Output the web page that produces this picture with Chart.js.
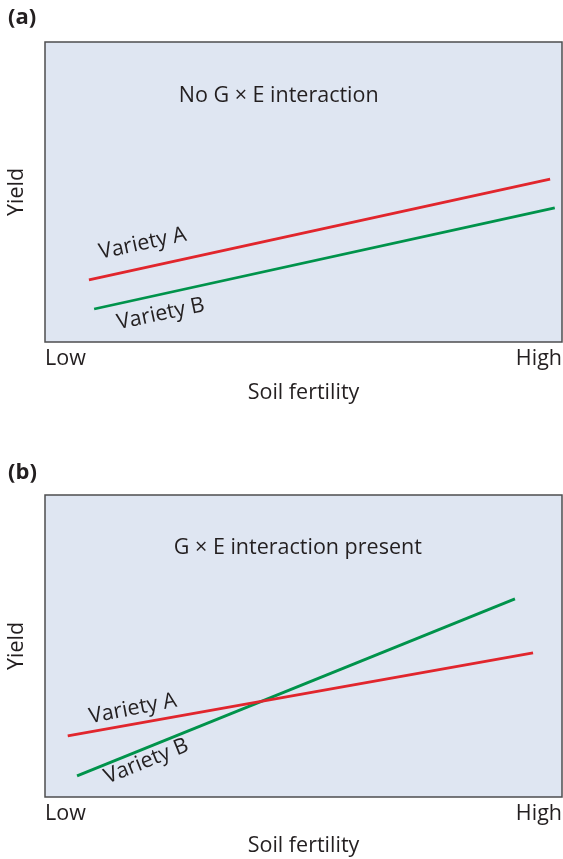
<!DOCTYPE html>
<html>
<head>
<meta charset="utf-8">
<script src="https://cdn.jsdelivr.net/npm/chart.js@4/dist/chart.umd.min.js"></script>
<style>
html, body { margin: 0; padding: 0; background: #fff; }
#wrap { position: relative; width: 563px; height: 859px; }
.box { position: absolute; left: 0; width: 563px; }
</style>
</head>
<body>
<div id="wrap">
	<div class="box" style="top:0;height:430px"><canvas id="chartA"></canvas></div>
	<div class="box" style="top:430px;height:429px"><canvas id="chartB"></canvas></div>
</div>
<script>
// soil fertility on x (0 = Low, 100 = High), yield on y (0..100)
var fertilityTicks = ["Low", "High"];

// panel (a): no G x E interaction
var aVarietyA_x = [8.5, 97.7];
var aVarietyA_y = [20.7, 54.3];
var aVarietyB_x = [9.5, 98.6];
var aVarietyB_y = [11, 44.7];

// panel (b): G x E interaction present
var bVarietyA_x = [4.4, 94.4];
var bVarietyA_y = [20.2, 47.7];
var bVarietyB_x = [6.2, 90.9];
var bVarietyB_y = [7, 65.6];

var RED = "#e1262d", GREEN = "#00934b", INK = "#231f20";
var FONT = "'Open Sans', 'Noto Sans', sans-serif";
var SIZE = 21.5;

function pts(xs, ys) {
	var out = [];
	for (var i = 0; i < xs.length; i++) out.push({x: xs[i], y: ys[i]});
	return out;
}

var frame = {
	id: 'frame',
	beforeDatasetsDraw: function(chart) {
		var a = chart.chartArea, ctx = chart.ctx;
		ctx.save();
		ctx.fillStyle = "#dfe6f2";
		ctx.fillRect(a.left, a.top, a.right - a.left, a.bottom - a.top);
		ctx.restore();
	},
	afterDatasetsDraw: function(chart, args, opts) {
		var a = chart.chartArea, ctx = chart.ctx;
		var xs = chart.scales.x, ys = chart.scales.y;
		ctx.save();
		ctx.strokeStyle = "#4d4d4f";
		ctx.lineWidth = 1.5;
		ctx.strokeRect(a.left, a.top, a.right - a.left, a.bottom - a.top);

		ctx.fillStyle = INK;
		ctx.textAlign = "center";
		ctx.textBaseline = "middle";
		opts.notes.forEach(function(n) {
			ctx.save();
			ctx.translate(xs.getPixelForValue(n.x), ys.getPixelForValue(n.y));
			ctx.rotate(n.angle * Math.PI / 180);
			ctx.font = SIZE + "px " + FONT;
			ctx.fillText(n.text, 0, 0);
			ctx.restore();
		});

		ctx.textAlign = "left";
		ctx.font = "bold 22px " + FONT;
		ctx.fillText(opts.panel, 8, opts.panelY);
		ctx.restore();
	}
};

function makeChart(id, setA, setB, notes, panel, panelY, padTop, xHeight, titleBottom) {
	var ctx = document.getElementById(id).getContext('2d');
	return new Chart(ctx, {
		type: 'line',
		data: {
			datasets: [
				{ label: "Variety A", data: setA, borderColor: RED, borderWidth: 2.8, pointRadius: 0, fill: false, tension: 0 },
				{ label: "Variety B", data: setB, borderColor: GREEN, borderWidth: 2.8, pointRadius: 0, fill: false, tension: 0 }
			]
		},
		options: {
			responsive: true,
			maintainAspectRatio: false,
			animation: false,
			events: [],
			layout: { padding: { top: padTop, right: 1, left: 0, bottom: 0 } },
			plugins: {
				legend: { display: false },
				tooltip: { enabled: false },
				frame: { notes: notes, panel: panel, panelY: panelY }
			},
			scales: {
				x: {
					type: 'linear', min: 0, max: 100,
					afterBuildTicks: function(s) { s.ticks = [{value: 0}, {value: 100}]; },
					afterFit: function(s) { s.height = xHeight; },
					ticks: {
						callback: function(v) { return v === 0 ? fertilityTicks[0] : fertilityTicks[1]; },
						align: 'inner', maxRotation: 0, autoSkip: false,
						color: INK, font: { family: FONT, size: SIZE }, padding: 0
					},
					grid: { display: false, drawTicks: true, tickLength: 4 },
					border: { display: false },
					title: {
						display: true, text: "Soil fertility", color: INK,
						font: { family: FONT, size: SIZE },
						padding: { top: 0, bottom: titleBottom }
					}
				},
				y: {
					min: 0, max: 100,
					afterFit: function(s) { s.width = 45; },
					ticks: { display: false },
					grid: { display: false, drawTicks: false },
					border: { display: false },
					title: {
						display: true, text: "Yield", color: INK,
						font: { family: FONT, size: SIZE },
						padding: { top: 4, bottom: 0 }
					}
				}
			}
		},
		plugins: [frame]
	});
}

makeChart('chartA',
	pts(aVarietyA_x, aVarietyA_y), pts(aVarietyB_x, aVarietyB_y),
	[
		{ text: "No G \u00d7 E interaction", x: 45.2, y: 82, angle: 0 },
		{ text: "Variety A", x: 18.9, y: 32.8, angle: -12 },
		{ text: "Variety B", x: 22.4, y: 9.3, angle: -12 }
	],
	"(a)", 18, 42, 88, 24);

makeChart('chartB',
	pts(bVarietyA_x, bVarietyA_y), pts(bVarietyB_x, bVarietyB_y),
	[
		{ text: "G \u00d7 E interaction present", x: 48.9, y: 82.5, angle: 0 },
		{ text: "Variety A", x: 17, y: 29.2, angle: -11 },
		{ text: "Variety B", x: 19.6, y: 11.8, angle: -22 }
	],
	"(b)", 43, 65, 62, 0);
</script>
</body>
</html>
